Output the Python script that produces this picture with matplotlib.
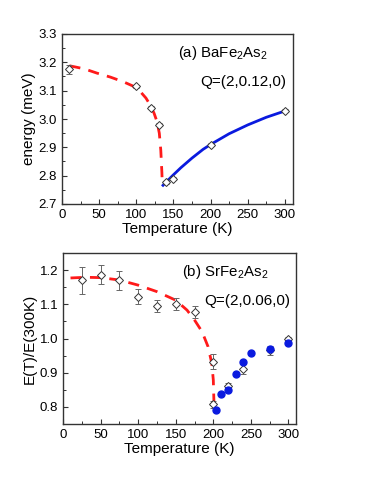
import numpy as np
import matplotlib
matplotlib.use("Agg")
import matplotlib.pyplot as plt
from matplotlib.ticker import MultipleLocator, FormatStrFormatter

plt.rcParams['font.family'] = ['Liberation Sans', 'DejaVu Sans']
plt.rcParams['mathtext.fontset'] = 'custom'
plt.rcParams['mathtext.rm'] = 'Liberation Sans'

# panel (a) BaFe2As2
a_T = [10, 100, 120, 130, 140, 150, 200, 300]
a_E = [3.175, 3.115, 3.04, 2.98, 2.777, 2.79, 2.91, 3.03]
a_err = [0.016, 0.005, 0.005, 0.005, 0.005, 0.005, 0.005, 0.005]
a_fit_lo_T = [10, 30, 47, 65, 82, 95, 105, 113, 119, 124, 128, 131, 133, 134.5, 135]
a_fit_lo_E = [3.188, 3.177, 3.162, 3.148, 3.132, 3.117, 3.098, 3.074, 3.048, 3.02, 2.99, 2.95, 2.89, 2.81, 2.77]
a_fit_hi_T = [136, 140, 145, 150, 160, 175, 190, 200, 225, 250, 275, 302]
a_fit_hi_E = [2.766, 2.777, 2.79, 2.803, 2.828, 2.862, 2.893, 2.91, 2.948, 2.979, 3.006, 3.03]

# panel (b) SrFe2As2
b_T = [25, 50, 75, 100, 125, 150, 175, 200, 200, 220, 240, 275, 300]
b_E = [1.17, 1.187, 1.17, 1.122, 1.095, 1.10, 1.078, 0.932, 0.808, 0.86, 0.91, 0.965, 1.0]
b_err = [0.04, 0.027, 0.027, 0.022, 0.018, 0.018, 0.018, 0.022, 0.01, 0.01, 0.015, 0.012, 0.004]
b_blue_T = [203, 210, 220, 230, 240, 250, 275, 300]
b_blue_E = [0.792, 0.838, 0.848, 0.895, 0.932, 0.957, 0.97, 0.988]
b_fit_T = [10, 30, 50, 75, 100, 125, 150, 165, 175, 185, 193, 198, 200, 201]
b_fit_E = [1.177, 1.179, 1.178, 1.171, 1.156, 1.137, 1.112, 1.083, 1.054, 1.02, 0.976, 0.927, 0.878, 0.80]

fig = plt.figure(figsize=(3.68, 4.8), dpi=100)
ax1 = fig.add_axes([62/368, 1-204/480, 231/368, 170/480])
ax2 = fig.add_axes([63/368, 1-424/480, 233/368, 171/480])

def style(ax):
    ax.tick_params(direction='in', which='both', labelsize=9.5, top=False, right=False,
                   color='#333333')
    ax.tick_params(which='major', length=3.5, width=0.8)
    ax.tick_params(which='minor', length=2, width=0.7)
    ax.xaxis.set_major_locator(MultipleLocator(50))
    ax.xaxis.set_minor_locator(MultipleLocator(25))
    ax.yaxis.set_major_locator(MultipleLocator(0.1))
    ax.yaxis.set_minor_locator(MultipleLocator(0.05))
    ax.yaxis.set_major_formatter(FormatStrFormatter('%.1f'))
    for s in ax.spines.values():
        s.set_linewidth(1.0)
        s.set_color('#333333')

ax1.plot(a_fit_lo_T, a_fit_lo_E, '--', color='#ff1a1a', lw=2, dashes=(4, 3))
ax1.plot(a_fit_hi_T, a_fit_hi_E, '-', color='#0a1adf', lw=2)
ax1.errorbar(a_T, a_E, yerr=a_err, fmt='D', mfc='white', mec='#333333', ms=4.5,
             mew=0.7, ecolor='#666666', elinewidth=0.7, capsize=2, zorder=5)
ax1.set_xlim(0, 311)
ax1.set_ylim(2.7, 3.3)
style(ax1)
ax1.set_xlabel('Temperature (K)', fontsize=11, labelpad=1)
ax1.set_ylabel('energy (meV)', fontsize=11, labelpad=2)
ax1.text(0.89, 0.94, '(a) BaFe$_2$As$_2$', transform=ax1.transAxes, ha='right', va='top', fontsize=10.8)
ax1.text(0.97, 0.76, 'Q=(2,0.12,0)', transform=ax1.transAxes, ha='right', va='top', fontsize=11)

ax2.plot(b_fit_T, b_fit_E, '--', color='#ff1a1a', lw=2, dashes=(4, 3))
ax2.errorbar(b_T, b_E, yerr=b_err, fmt='D', mfc='white', mec='#333333', ms=4.5,
             mew=0.7, ecolor='#666666', elinewidth=0.7, capsize=2, zorder=5)
ax2.plot(b_blue_T, b_blue_E, 'o', color='#0a1adf', ms=5, zorder=6)
ax2.set_xlim(0, 310)
ax2.set_ylim(0.75, 1.25)
style(ax2)
ax2.set_xlabel('Temperature (K)', fontsize=11, labelpad=1)
ax2.set_ylabel('E(T)/E(300K)', fontsize=11, labelpad=2)
ax2.text(0.88, 0.94, '(b) SrFe$_2$As$_2$', transform=ax2.transAxes, ha='right', va='top', fontsize=10.8)
ax2.text(0.975, 0.76, 'Q=(2,0.06,0)', transform=ax2.transAxes, ha='right', va='top', fontsize=11)

fig.savefig('out.png', dpi=100)
